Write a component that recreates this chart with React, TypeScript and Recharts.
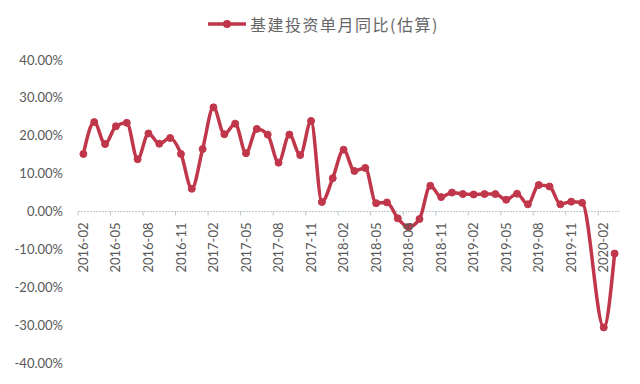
import React from 'react';
import { LineChart, Line, XAxis, YAxis, Legend, ReferenceLine } from 'recharts';

const months = [
  '2016-02', '2016-03', '2016-04', '2016-05', '2016-06', '2016-07', '2016-08', '2016-09', '2016-10', '2016-11', '2016-12',
  '2017-01', '2017-02', '2017-03', '2017-04', '2017-05', '2017-06', '2017-07', '2017-08', '2017-09', '2017-10', '2017-11', '2017-12',
  '2018-01', '2018-02', '2018-03', '2018-04', '2018-05', '2018-06', '2018-07', '2018-08', '2018-09', '2018-10', '2018-11', '2018-12',
  '2019-01', '2019-02', '2019-03', '2019-04', '2019-05', '2019-06', '2019-07', '2019-08', '2019-09', '2019-10', '2019-11', '2019-12',
  '2020-01', '2020-02', '2020-03',
];

// 基建投资单月同比(估算), %  (2020-01 has no single-month figure)
const infraYoY = [
  15.2, 23.6, 17.8, 22.5, 23.4, 13.8, 20.6, 17.9, 19.4, 15.2, 6.0,
  16.5, 27.5, 20.4, 23.2, 15.4, 21.8, 20.3, 12.9, 20.3, 14.9, 23.9, 2.5,
  8.8, 16.3, 10.7, 11.5, 2.2, 2.4, -1.8, -4.1, -2.0, 6.8, 3.8, 5.0,
  4.6, 4.5, 4.6, 4.6, 3.1, 4.7, 1.9, 7.0, 6.6, 1.9, 2.6, 2.3,
  null, -30.6, -11.1,
];

const yTicks = [-40, -30, -20, -10, 0, 10, 20, 30, 40];
const seriesName = '基建投资单月同比(估算)';

const data = months.map((m, i) => ({ month: m, value: infraYoY[i] }));

const RED = '#C0364A';
const GREY = '#595959';
const AXIS = '#BCC7CF';

const W = 640;
const H = 384;
const MARGIN = { top: 20, right: 20, bottom: 20, left: 8 };
const LEGEND_H = 40;
const X_H = 1;
const PLOT_H = H - MARGIN.top - LEGEND_H - MARGIN.bottom - X_H;

// category axis crosses the value axis at 0, so draw the labels there
function ZeroTick(props: any) {
  const { x, y, payload } = props;
  const zy = y - PLOT_H / 2;
  return (
    <g>
      <line x1={x - 5.4} x2={x - 5.4} y1={zy} y2={zy + 4} stroke={AXIS} />
      <text
        transform={`translate(${x},${zy + 11}) rotate(-90)`}
        textAnchor="end"
        dy="0.35em"
        fill={GREY}
        fontSize={13}
        fontFamily="Lato, 'Liberation Sans', sans-serif"
      >
        {payload.value}
      </text>
    </g>
  );
}

function LegendContent() {
  return (
    <div style={{ display: 'flex', justifyContent: 'center', alignItems: 'center', paddingLeft: 7 }}>
      <svg width={38} height={10} style={{ marginRight: 4 }}>
        <line x1={0} x2={38} y1={5} y2={5} stroke={RED} strokeWidth={3.5} />
        <circle cx={19} cy={5} r={4} fill={RED} />
      </svg>
      <span
        style={{
          color: '#666',
          fontSize: 16,
          letterSpacing: 1.5,
          fontFamily: "'Noto Sans CJK SC', sans-serif",
        }}
      >
        {seriesName}
      </span>
    </div>
  );
}

export default function App() {
  return (
    <div style={{ position: 'absolute', left: 0, top: 0, width: W, height: H, background: '#fff' }}>
      <LineChart width={W} height={H} data={data} margin={MARGIN}>
        <Legend
          verticalAlign="top"
          height={LEGEND_H}
          wrapperStyle={{ top: 12, left: 0, width: W }}
          content={<LegendContent />}
        />
        <XAxis
          dataKey="month"
          interval={2}
          height={X_H}
          axisLine={false}
          tickLine={false}
          tickSize={0}
          tickMargin={0}
          padding={{ left: 5.4, right: 5.4 }}
          tick={(p: any) => <ZeroTick {...p} />}
        />
        <YAxis
          width={70}
          domain={[-40, 40]}
          ticks={yTicks}
          axisLine={false}
          tickLine={false}
          tickMargin={9}
          tickFormatter={(v: number) => `${v.toFixed(2)}%`}
          tick={{ fill: GREY, fontSize: 13, fontFamily: "Lato, 'Liberation Sans', sans-serif" }}
        />
        <ReferenceLine y={0} stroke={AXIS} strokeDasharray="2 1" />
        <Line
          type="monotone"
          dataKey="value"
          name={seriesName}
          stroke={RED}
          strokeWidth={3.5}
          connectNulls
          dot={{ r: 3.5, fill: RED, stroke: RED, strokeWidth: 1 }}
          activeDot={false}
          isAnimationActive={false}
        />
      </LineChart>
    </div>
  );
}
